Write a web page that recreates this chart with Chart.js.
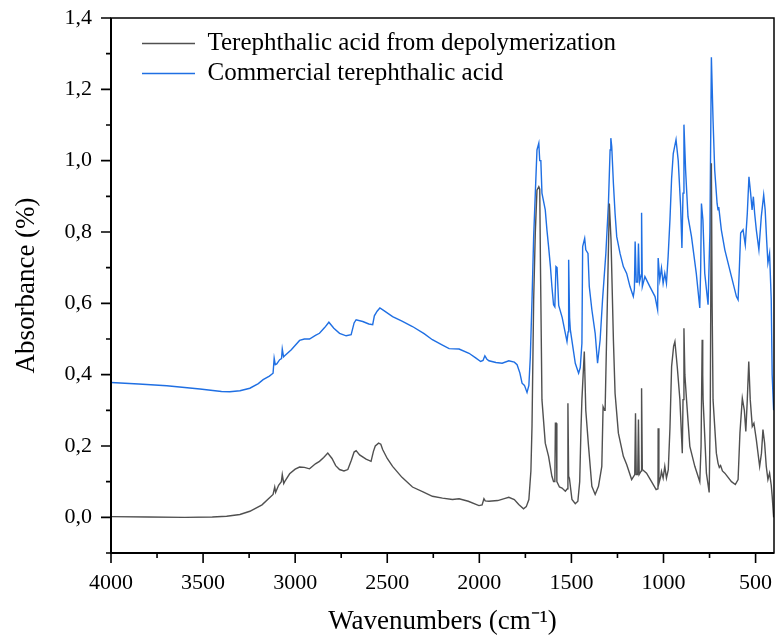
<!DOCTYPE html>
<html lang="en">
<head>
  <meta charset="UTF-8">
  <title>FTIR spectra of terephthalic acid</title>
  <style>
    html, body { margin: 0; padding: 0; background: #ffffff; }
    #wrap { width: 776px; height: 641px; }
  </style>
</head>
<body>
  <div id="wrap"><canvas id="ftir" width="776" height="641"></canvas></div>

  <script src="https://cdn.jsdelivr.net/npm/chart.js"></script>
  <script>
    // Tick labels
    const xTicks = [4000, 3500, 3000, 2500, 2000, 1500, 1000, 500];
    const yTicks = [0.0, 0.2, 0.4, 0.6, 0.8, 1.0, 1.2, 1.4];

    // Series names
    const seriesNames = ['Terephthalic acid from depolymerization', 'Commercial terephthalic acid'];

    // Terephthalic acid from depolymerization
    const depolyWn = [4000, 3800, 3600, 3450, 3372, 3300, 3246, 3180, 3120, 3111, 3106, 3090, 3075, 3070, 3062, 3057,
      3030, 3000, 2976, 2950, 2922, 2890, 2868, 2845, 2823, 2800, 2780, 2759, 2735, 2714, 2695, 2680, 2669, 2650,
      2615, 2588, 2575, 2565, 2547, 2535, 2525, 2500, 2471, 2420, 2363, 2300, 2255, 2200, 2146, 2110, 2060, 2002,
      1985, 1975, 1968, 1948, 1900, 1860, 1840, 1810, 1786, 1760, 1745, 1731, 1720, 1714, 1705, 1696, 1687, 1677,
      1672, 1668, 1660, 1642, 1624, 1606, 1597, 1590, 1587, 1582, 1579, 1565, 1551, 1533, 1522, 1519, 1515, 1511,
      1497, 1479, 1465, 1455, 1448, 1443, 1430, 1422, 1407, 1389, 1371, 1353, 1335, 1328, 1320, 1317, 1305, 1294,
      1285, 1272, 1263, 1245, 1218, 1200, 1173, 1156, 1152, 1148, 1140, 1136, 1132, 1121, 1119, 1115, 1092, 1065,
      1040, 1030, 1029, 1025, 1015, 1011, 1002, 993, 984, 974, 965, 956, 945, 938, 925, 911, 898, 894, 889, 884,
      875, 857, 830, 803, 796, 790, 787, 785, 767, 752, 746, 740, 736, 731, 713, 704, 697, 690, 680, 667, 631, 610,
      595, 585, 572, 561, 553, 545, 537, 529, 518, 509, 496, 478, 468, 460, 451, 442, 433, 424, 415, 410, 402];
    const depolyAbs = [0.002, 0.001, 0.000, 0.001, 0.003, 0.008, 0.017, 0.035, 0.064, 0.085, 0.070, 0.090, 0.100, 0.120, 0.095, 0.100,
      0.122, 0.135, 0.141, 0.140, 0.136, 0.150, 0.157, 0.168, 0.180, 0.165, 0.145, 0.134, 0.130, 0.134, 0.160, 0.183, 0.187, 0.175,
      0.163, 0.157, 0.185, 0.200, 0.208, 0.205, 0.190, 0.165, 0.143, 0.112, 0.085, 0.070, 0.059, 0.054, 0.050, 0.052, 0.045, 0.033,
      0.035, 0.052, 0.046, 0.045, 0.047, 0.053, 0.056, 0.050, 0.036, 0.024, 0.030, 0.050, 0.130, 0.255, 0.610, 0.800, 0.917, 0.927,
      0.920, 0.703, 0.330, 0.208, 0.171, 0.115, 0.100, 0.100, 0.264, 0.264, 0.100, 0.085, 0.082, 0.073, 0.080, 0.320, 0.115, 0.110,
      0.050, 0.038, 0.045, 0.100, 0.250, 0.330, 0.465, 0.300, 0.199, 0.087, 0.064, 0.087, 0.143, 0.310, 0.300, 0.300, 0.600, 0.880,
      0.778, 0.497, 0.348, 0.236, 0.171, 0.148, 0.106, 0.120, 0.292, 0.120, 0.120, 0.274, 0.120, 0.130, 0.362, 0.134, 0.124, 0.100,
      0.078, 0.080, 0.250, 0.095, 0.115, 0.129, 0.110, 0.143, 0.110, 0.134, 0.250, 0.423, 0.480, 0.493, 0.420, 0.330, 0.180, 0.330, 0.530, 0.400,
      0.330, 0.199, 0.143, 0.100, 0.200, 0.498, 0.400, 0.330, 0.124, 0.070, 0.300, 0.993, 0.600, 0.330, 0.180, 0.152, 0.140, 0.145, 0.130, 0.124, 0.100, 0.092,
      0.106, 0.236, 0.334, 0.300, 0.241, 0.330, 0.437, 0.330, 0.255, 0.264, 0.218, 0.143, 0.180, 0.246, 0.208, 0.143, 0.106, 0.124, 0.090, 0.060, 0.000];

    // Commercial terephthalic acid
    const commercialWn = [4000, 3850, 3697, 3517, 3400, 3355, 3300, 3246, 3200, 3174, 3140, 3120, 3114, 3108, 3100, 3084,
      3074, 3070, 3063, 3057, 3021, 2976, 2950, 2922, 2890, 2868, 2840, 2817, 2790, 2759, 2723, 2696, 2680, 2669,
      2633, 2600, 2579, 2570, 2555, 2540, 2516, 2471, 2420, 2363, 2300, 2255, 2200, 2164, 2110, 2056, 2020, 1993,
      1980, 1970, 1960, 1948, 1910, 1876, 1840, 1810, 1795, 1780, 1768, 1755, 1741, 1731, 1723, 1714, 1705, 1696,
      1687, 1677, 1672, 1666, 1660, 1642, 1633, 1624, 1614, 1606, 1597, 1590, 1584, 1578, 1569, 1550, 1533, 1524,
      1518, 1515, 1510, 1506, 1479, 1461, 1452, 1443, 1439, 1428, 1422, 1410, 1403, 1389, 1371, 1358, 1344, 1331,
      1313, 1299, 1290, 1286, 1281, 1272, 1263, 1254, 1236, 1218, 1200, 1182, 1164, 1158, 1154, 1148, 1140, 1136,
      1130, 1121, 1119, 1115, 1101, 1074, 1046, 1032, 1029, 1020, 1011, 1002, 993, 984, 975, 965, 956, 947, 932,
      920, 907, 900, 894, 889, 880, 867, 848, 822, 803, 798, 794, 786, 776, 758, 748, 740, 731, 722, 709, 704, 700,
      686, 667, 631, 604, 595, 588, 581, 568, 556, 545, 536, 527, 519, 512, 505, 496, 482, 469, 456, 448, 440, 433,
      424, 415, 410, 402];
    const commercialAbs = [0.378, 0.374, 0.369, 0.360, 0.353, 0.352, 0.355, 0.362, 0.375, 0.386, 0.396, 0.404, 0.446, 0.428, 0.430, 0.442,
      0.445, 0.472, 0.450, 0.453, 0.470, 0.496, 0.500, 0.500, 0.510, 0.516, 0.532, 0.547, 0.530, 0.516, 0.509, 0.512, 0.545, 0.554,
      0.549, 0.542, 0.540, 0.565, 0.578, 0.587, 0.579, 0.563, 0.550, 0.535, 0.515, 0.498, 0.483, 0.473, 0.472, 0.460, 0.447, 0.437,
      0.440, 0.453, 0.444, 0.439, 0.434, 0.432, 0.439, 0.435, 0.428, 0.405, 0.376, 0.370, 0.350, 0.370, 0.451, 0.610, 0.787, 0.909,
      1.030, 1.049, 1.000, 1.000, 0.909, 0.862, 0.806, 0.759, 0.703, 0.647, 0.596, 0.590, 0.703, 0.700, 0.594, 0.560, 0.516, 0.493,
      0.520, 0.722, 0.560, 0.526, 0.432, 0.404, 0.420, 0.488, 0.759, 0.782, 0.750, 0.740, 0.647, 0.582, 0.516, 0.432, 0.498, 0.610,
      0.740, 0.880, 1.030, 1.063, 1.039, 0.936, 0.852, 0.787, 0.740, 0.703, 0.684, 0.647, 0.619, 0.640, 0.773, 0.660, 0.660, 0.768,
      0.660, 0.680, 0.854, 0.647, 0.675, 0.647, 0.619, 0.582, 0.727, 0.666, 0.699, 0.656, 0.684, 0.656, 0.730, 0.834, 0.950, 1.020, 1.059,
      1.000, 0.871, 0.755, 0.909, 1.101, 0.974, 0.843, 0.787, 0.684, 0.587, 0.700, 0.880, 0.834, 0.684, 0.596, 0.800, 1.290, 1.114, 0.974, 0.880, 0.862, 0.870,
      0.806, 0.750, 0.675, 0.619, 0.610, 0.700, 0.797, 0.806, 0.764, 0.852, 0.955, 0.909, 0.862, 0.899, 0.852, 0.806, 0.750, 0.843, 0.904, 0.862, 0.778, 0.713,
      0.740, 0.610, 0.400, 0.300];

    const toPoints = (xs, ys) => xs.map((x, i) => ({ x: x, y: ys[i] }));

    const serif = "'Liberation Serif', 'Times New Roman', serif";
    const GRAY = '#505050';
    const BLUE = '#1f6fe3';

    Chart.defaults.font.family = serif;
    Chart.defaults.color = '#000';

    // Box around the plot plus outward major/minor ticks
    const frameAndTicks = {
      id: 'frameAndTicks',
      afterDraw(chart) {
        const { ctx, chartArea: a, scales: { x, y } } = chart;
        ctx.save();
        ctx.strokeStyle = '#000';
        ctx.lineWidth = 1.5;
        ctx.strokeRect(a.left, a.top, a.right - a.left, a.bottom - a.top);
        ctx.lineWidth = 2;
        ctx.beginPath();
        ctx.moveTo(a.left, a.top);
        ctx.lineTo(a.left, a.bottom);
        ctx.lineTo(a.right, a.bottom);
        ctx.stroke();

        ctx.lineWidth = 1.6;
        ctx.beginPath();
        for (let i = 0; i < xTicks.length; i++) {
          const px = x.getPixelForValue(xTicks[i]);
          ctx.moveTo(px, a.bottom); ctx.lineTo(px, a.bottom + 10);
          const mid = xTicks[i] - 250;
          if (mid >= x.min) {
            const pm = x.getPixelForValue(mid);
            ctx.moveTo(pm, a.bottom); ctx.lineTo(pm, a.bottom + 5);
          }
        }
        const yAll = [-0.1].concat(yTicks);
        for (let i = 0; i < yAll.length; i++) {
          const py = y.getPixelForValue(yAll[i]);
          const major = yTicks.includes(yAll[i]);
          ctx.moveTo(a.left, py); ctx.lineTo(a.left - (major ? 10 : 5), py);
          if (major && yAll[i] < 1.4) {
            const pm = y.getPixelForValue(yAll[i] + 0.1);
            ctx.moveTo(a.left, pm); ctx.lineTo(a.left - 5, pm);
          }
        }
        ctx.stroke();
        ctx.restore();
      }
    };

    // Move the legend a little inside the plot, as in the original
    const legendInset = {
      id: 'legendInset',
      afterLayout(chart) {
        const lg = chart.legend;
        if (!lg) return;
        lg.left = chart.chartArea.left + 26;
        lg.top = chart.chartArea.top + 8;
      }
    };

    new Chart(document.getElementById('ftir'), {
      type: 'line',
      data: {
        datasets: [
          {
            label: seriesNames[0],
            data: toPoints(depolyWn, depolyAbs),
            borderColor: GRAY,
            backgroundColor: GRAY,
            borderWidth: 1.4,
            pointRadius: 0,
            tension: 0
          },
          {
            label: seriesNames[1],
            data: toPoints(commercialWn, commercialAbs),
            borderColor: BLUE,
            backgroundColor: BLUE,
            borderWidth: 1.4,
            pointRadius: 0,
            tension: 0
          }
        ]
      },
      options: {
        responsive: false,
        animation: false,
        devicePixelRatio: 1,
        layout: { padding: { top: 18, right: 2, left: 0, bottom: 0 } },
        plugins: {
          tooltip: { enabled: false },
          legend: {
            position: 'chartArea',
            align: 'start',
            labels: {
              usePointStyle: true,
              pointStyle: 'line',
              pointStyleWidth: 53,
              boxHeight: 25,
              padding: 5,
              color: '#000',
              font: { family: serif, size: 25 }
            }
          }
        },
        scales: {
          x: {
            type: 'linear',
            reverse: true,
            min: 400,
            max: 4000,
            afterBuildTicks: (s) => { s.ticks = xTicks.map(v => ({ value: v })); },
            afterFit: (s) => { s.height = 88; s.paddingLeft = 0; s.paddingRight = 0; },
            grid: { display: false, drawTicks: false },
            border: { display: false },
            ticks: {
              padding: 17,
              color: '#000',
              font: { family: serif, size: 22 },
              maxRotation: 0,
              callback: (v) => String(v)
            },
            title: {
              display: true,
              text: 'Wavenumbers (cm\u207B\u00B9)',
              color: '#000',
              font: { family: serif, size: 27 },
              padding: { top: 0, bottom: 3 }
            }
          },
          y: {
            min: -0.1,
            max: 1.4,
            afterBuildTicks: (s) => { s.ticks = yTicks.map(v => ({ value: v })); },
            afterFit: (s) => { s.width = 111; s.paddingTop = 0; s.paddingBottom = 0; },
            grid: { display: false, drawTicks: false },
            border: { display: false },
            ticks: {
              padding: 19,
              color: '#000',
              font: { family: serif, size: 22 },
              callback: (v) => v.toFixed(1).replace('.', ',')
            },
            title: {
              display: true,
              text: 'Absorbance (%)',
              color: '#000',
              font: { family: serif, size: 27 },
              padding: { top: 11, bottom: 0 }
            }
          }
        }
      },
      plugins: [frameAndTicks, legendInset]
    });
  </script>
</body>
</html>
